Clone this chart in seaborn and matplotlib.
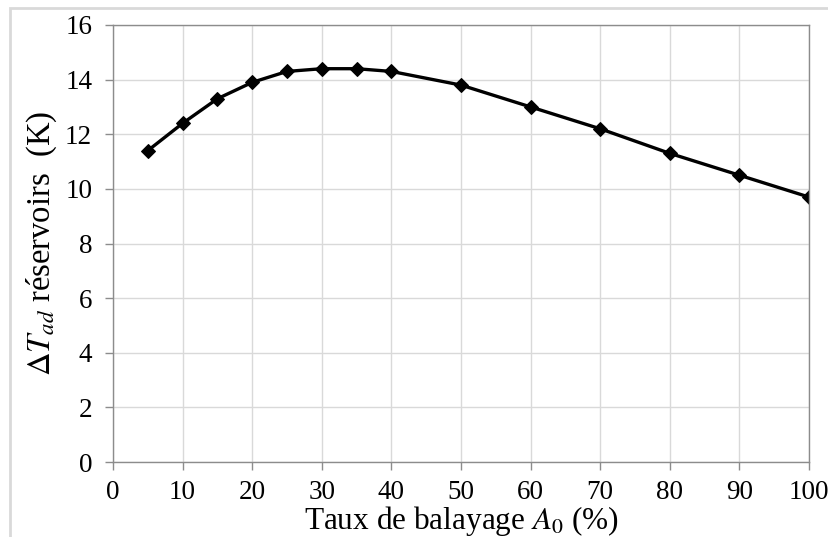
import matplotlib
matplotlib.use("Agg")
import matplotlib.pyplot as plt
import seaborn as sns
import pandas as pd
from matplotlib.patches import Rectangle

taux = [5, 10, 15, 20, 25, 30, 35, 40, 50, 60, 70, 80, 90, 100]
delta_t = [11.4, 12.4, 13.3, 13.9, 14.3, 14.4, 14.4, 14.3, 13.8, 13.0, 12.2, 11.3, 10.5, 9.7]
x_ticks = [0, 10, 20, 30, 40, 50, 60, 70, 80, 90, 100]
y_ticks = [0, 2, 4, 6, 8, 10, 12, 14, 16]

sns.set_theme(style="white")
plt.rcParams['font.family'] = ['Liberation Serif', 'DejaVu Serif']
plt.rcParams['mathtext.fontset'] = 'stix'

df = pd.DataFrame({"taux": taux, "dt": delta_t})

fig = plt.figure(figsize=(8.29, 5.37), dpi=100)
ax = fig.add_axes([113/829, 1-462/537, (809-113)/829, (462-25)/537])

sns.lineplot(data=df, x="taux", y="dt", ax=ax, color="black", linewidth=2.4,
             marker="D", markersize=7.5, markeredgecolor="black", markerfacecolor="black")

ax.set_xlim(0, 100)
ax.set_ylim(0, 16)
ax.set_xticks(x_ticks)
ax.set_yticks(y_ticks)
ax.set_xticklabels([str(v) for v in x_ticks], fontsize=19.5)
ax.set_yticklabels([str(v) for v in y_ticks], fontsize=19.5)
ax.grid(True, color="#d9d9d9", linewidth=1.0)
ax.set_axisbelow(True)
for s in ax.spines.values():
    s.set_color("#8c8c8c")
    s.set_linewidth(1.0)
ax.tick_params(axis="both", which="both", direction="out", length=6, width=1,
               color="#8c8c8c", labelcolor="black",
               left=True, bottom=True)
ax.tick_params(axis="y", pad=9)
ax.tick_params(axis="x", pad=7)
ax.set_xlabel("Taux de balayage $A_0$ (%)", fontsize=22.5, labelpad=-1, color="black")
ax.set_ylabel(r"$\Delta T_{ad}$ réservoirs  (K)", fontsize=23.5, labelpad=4, color="black")

fig.patches.append(Rectangle((10/829, -0.1), 1.2, 1-8/537+0.1, transform=fig.transFigure,
                             fill=False, edgecolor="#d9d9d9", linewidth=2.0, zorder=0))

fig.savefig("out.png", dpi=100)
